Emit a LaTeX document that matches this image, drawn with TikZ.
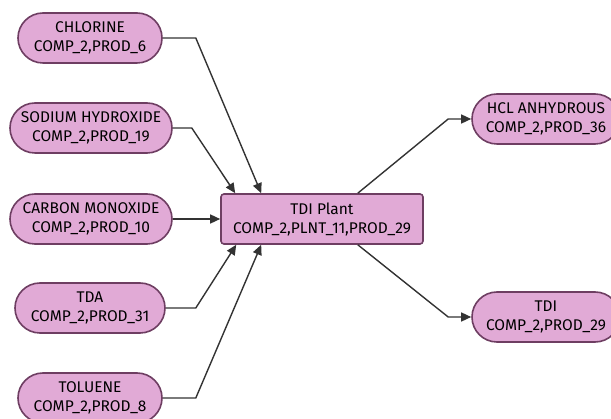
\documentclass[tikz,border=0pt]{standalone}
\usepackage{fontspec}
\setmainfont{Fira Sans}
\usetikzlibrary{arrows.meta,positioning,calc}
\definecolor{chemfill}{HTML}{E1AAD6}
\definecolor{chemline}{HTML}{6E3E62}
\definecolor{flowline}{HTML}{333333}
\begin{document}
\begin{tikzpicture}[
  x=1pt,y=-1pt,
  chem/.style={draw=chemline,fill=chemfill,line width=1.6pt,align=center,
    rounded corners=25pt,minimum height=50pt,inner xsep=6pt,
    font=\fontsize{15.5}{19}\selectfont},
  plant/.style={chem,rounded corners=3pt},
  flow/.style={-{Triangle[length=10pt,width=9pt]},draw=flowline,line width=1.4pt}
]
\useasboundingbox (0,0) rectangle (611,419);
\node[chem,minimum width=144pt] (chlorine) at (90,38) {CHLORINE\\COMP\_2,PROD\_6};
\node[chem,minimum width=162pt] (naoh) at (91,128) {SODIUM HYDROXIDE\\COMP\_2,PROD\_19};
\node[chem,minimum width=162pt] (co) at (91,219) {CARBON MONOXIDE\\COMP\_2,PROD\_10};
\node[chem,minimum width=150pt] (tda) at (90,308) {TDA\\COMP\_2,PROD\_31};
\node[chem,minimum width=144pt] (toluene) at (90,398) {TOLUENE\\COMP\_2,PROD\_8};
\node[plant,minimum width=202pt] (tdiplant) at (322,219) {TDI Plant\\COMP\_2,PLNT\_11,PROD\_29};
\node[chem,minimum width=148pt] (hcl) at (546,119) {HCL ANHYDROUS\\COMP\_2,PROD\_36};
\node[chem,minimum width=148pt] (tdi) at (546,317) {TDI\\COMP\_2,PROD\_29};
% inputs
\draw[flow] (chlorine.east) -- ++(33,0) -- ([xshift=41pt]tdiplant.north west);
\draw[flow] (naoh.east) -- ++(19,0) -- ([xshift=15pt]tdiplant.north west);
\draw[flow] (co.east) -- (tdiplant.west);
\draw[flow] (tda.east) -- ++(30,0) -- ([xshift=16pt]tdiplant.south west);
\draw[flow] (toluene.east) -- ++(33,0) -- ([xshift=41pt]tdiplant.south west);
% outputs
\draw[flow] ([xshift=-66pt]tdiplant.north east) -- ([xshift=-23pt]hcl.west) -- (hcl.west);
\draw[flow] ([xshift=-66pt]tdiplant.south east) -- ([xshift=-23pt]tdi.west) -- (tdi.west);
\end{tikzpicture}
\end{document}
